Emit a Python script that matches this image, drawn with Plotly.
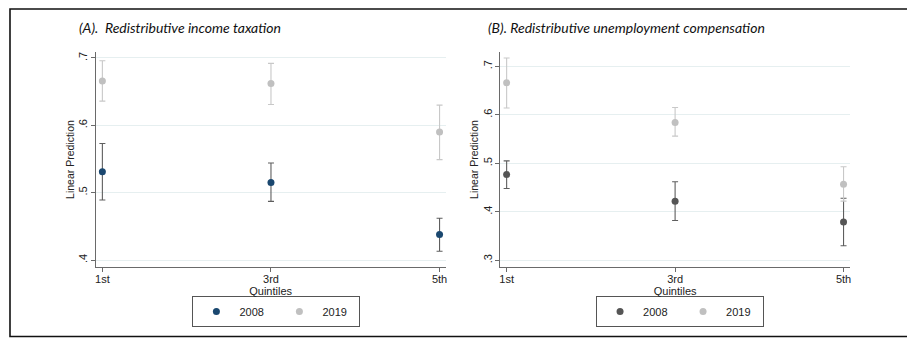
import plotly.graph_objects as go

# ---- data ----
quintile_pos = [1, 3, 5]
quintile_labels = ["1st", "3rd", "5th"]

# Panel A: redistributive income taxation
a_2008 = [0.531, 0.515, 0.438]
a_2008_lo = [0.489, 0.487, 0.413]
a_2008_hi = [0.573, 0.544, 0.462]
a_2019 = [0.666, 0.662, 0.590]
a_2019_lo = [0.636, 0.631, 0.549]
a_2019_hi = [0.696, 0.692, 0.630]

# Panel B: redistributive unemployment compensation
b_2008 = [0.477, 0.422, 0.379]
b_2008_lo = [0.448, 0.382, 0.330]
b_2008_hi = [0.505, 0.462, 0.428]
b_2019 = [0.666, 0.584, 0.457]
b_2019_lo = [0.614, 0.556, 0.422]
b_2019_hi = [0.717, 0.615, 0.493]

a_yticks = [0.4, 0.5, 0.6, 0.7]
b_yticks = [0.3, 0.4, 0.5, 0.6, 0.7]
ytick_text = {0.3: ".3", 0.4: ".4", 0.5: ".5", 0.6: ".6", 0.7: ".7"}

# page body adds an 8px offset; size the figure to fit the window
OFF = 8
W, H = 915 - OFF, 338 - OFF
FONT = "Liberation Sans, Arial, sans-serif"
NAVY = "#1a476f"
DARK = "#555555"
LIGHT = "#c0c0c0"
BAR_DARK = "#5e5e5e"
BAR_LIGHT = "#c8c8c8"
GRID = "#e6eff0"
AXIS = "#6a6a6a"


def px_x(p):
    return (p - OFF) / W


def px_y(p):
    return 1 - (p - OFF) / H


def trace(vals, lo, hi, name, mcolor, bcolor, xa, ya, legend):
    return go.Scatter(
        x=quintile_pos, y=vals, mode="markers", name=name,
        marker=dict(color=mcolor, size=7),
        error_y=dict(type="data", symmetric=False,
                     array=[h - v for h, v in zip(hi, vals)],
                     arrayminus=[v - l for v, l in zip(vals, lo)],
                     color=bcolor, thickness=1.1, width=3),
        xaxis=xa, yaxis=ya, legend=legend, showlegend=True,
    )


fig = go.Figure()
fig.add_trace(trace(a_2008, a_2008_lo, a_2008_hi, "2008", NAVY, BAR_DARK, "x", "y", "legend"))
fig.add_trace(trace(a_2019, a_2019_lo, a_2019_hi, "2019", LIGHT, BAR_LIGHT, "x", "y", "legend"))
fig.add_trace(trace(b_2008, b_2008_lo, b_2008_hi, "2008", DARK, BAR_DARK, "x2", "y2", "legend2"))
fig.add_trace(trace(b_2019, b_2019_lo, b_2019_hi, "2019", LIGHT, BAR_LIGHT, "x2", "y2", "legend2"))

xcommon = dict(tickvals=quintile_pos, ticktext=quintile_labels, showline=True,
               linecolor=AXIS, linewidth=1.2, ticks="outside", ticklen=4, tickcolor=AXIS,
               showgrid=False, zeroline=False, tickfont=dict(size=11, color="#222", family=FONT),
               ticklabelstandoff=-2,
               title=dict(text="Quintiles", font=dict(size=11, color="#222", family=FONT), standoff=0))
ycommon = dict(showline=True, linecolor=AXIS, linewidth=1.2, ticks="outside", ticklen=4,
               tickcolor=AXIS, showgrid=True, gridcolor=GRID, gridwidth=1, zeroline=False,
               tickangle=-90, tickfont=dict(size=11, color="#222", family=FONT),
               ticklabelstandoff=-1,
               title=dict(text="Linear Prediction", font=dict(size=10.5, color="#222", family=FONT), standoff=0))

LEG = dict(orientation="h", yanchor="top", xanchor="left",
           bordercolor="#555", borderwidth=1, font=dict(size=11, family=FONT, color="#222"),
           entrywidth=32, entrywidthmode="pixels", bgcolor="white", itemwidth=36)

fig.update_layout(
    width=W, height=H, margin=dict(l=0, r=0, t=0, b=0),
    paper_bgcolor="white", plot_bgcolor="white",
    font=dict(family=FONT, color="#222"),
    xaxis=dict(**xcommon, domain=[px_x(95), px_x(446)], range=[0.921, 5.071], anchor="y"),
    yaxis=dict(**ycommon, domain=[px_y(267), px_y(52)], range=[0.3896, 0.7089],
               tickvals=a_yticks, ticktext=[ytick_text[v] for v in a_yticks], anchor="x"),
    xaxis2=dict(**xcommon, domain=[px_x(500.7), px_x(852)], range=[0.922, 5.079], anchor="y2"),
    yaxis2=dict(**ycommon, domain=[px_y(267), px_y(52)], range=[0.2862, 0.7295],
                tickvals=b_yticks, ticktext=[ytick_text[v] for v in b_yticks], anchor="x2"),
    legend=dict(**LEG, x=px_x(192), y=px_y(296)),
    legend2=dict(**LEG, x=px_x(597), y=px_y(296)),
    showlegend=True,
)

fig.add_annotation(text="<i>(A).&nbsp; Redistributive income taxation</i>", xref="paper", yref="paper",
                   x=px_x(76), y=px_y(28), xanchor="left", yanchor="middle", showarrow=False,
                   font=dict(family="Lato, Open Sans, sans-serif", size=14, color="#111"))
fig.add_annotation(text="<i>(B). Redistributive unemployment compensation</i>", xref="paper", yref="paper",
                   x=px_x(487), y=px_y(28), xanchor="left", yanchor="middle", showarrow=False,
                   font=dict(family="Lato, Open Sans, sans-serif", size=14, color="#111"))

# outer frame (left, top and bottom edges visible)
fig.add_shape(type="rect", xref="paper", yref="paper", x0=px_x(9), x1=1.02, y0=px_y(336.5), y1=px_y(9),
              line=dict(color="#111", width=1.6), fillcolor="rgba(0,0,0,0)", layer="above")

fig.write_html("out.html")
